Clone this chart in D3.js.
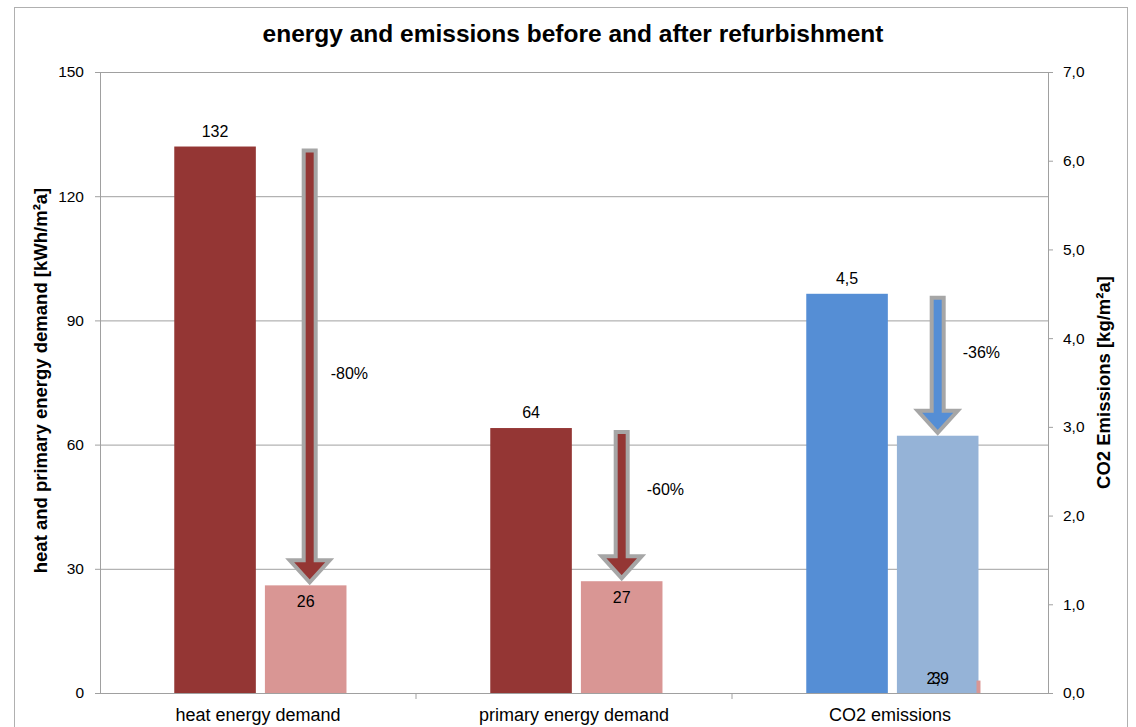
<!DOCTYPE html>
<html>
<head>
<meta charset="utf-8">
<script src="https://cdn.jsdelivr.net/npm/d3@7"></script>
<style>
  body { margin: 0; background: #fff; }
  svg { display: block; font-family: "Liberation Sans", Arial, sans-serif; }
</style>
</head>
<body>
<svg id="chart" width="1136" height="727"></svg>
<script>
const categories = ["heat energy demand", "primary energy demand", "CO2 emissions"];
const energyBefore = [132, 64, null];
const energyAfter = [26, 27, 3];
const co2Before = [null, null, 4.5];
const co2After = [null, null, 2.9];
const reductions = ["-80%", "-60%", "-36%"];
const leftTicks = [0, 30, 60, 90, 120, 150];
const rightTicks = [0, 1, 2, 3, 4, 5, 6, 7];

const width = 1136;
const height = 727;
const margin = { top: 72, right: 88, bottom: 34, left: 100 };
const plotW = width - margin.left - margin.right;   // 948
const plotH = height - margin.top - margin.bottom;  // 621

const colors = {
  energyBefore: "#943634",
  energyAfter: "#d99694",
  co2Before: "#558ed5",
  co2After: "#95b3d7",
  arrow: "#a6a6a6",
  grid: "#a0a0a0"
};

const svg = d3.select("#chart");

// outer chart border
svg.append("rect")
  .attr("x", 14.5).attr("y", 7.5)
  .attr("width", 1113).attr("height", 730)
  .attr("fill", "none").attr("stroke", "#b0b0b0");

svg.append("text")
  .attr("x", 573).attr("y", 42)
  .attr("text-anchor", "middle")
  .attr("font-size", 24.5).attr("font-weight", "bold")
  .text("energy and emissions before and after refurbishment");

const g = svg.append("g").attr("transform", `translate(${margin.left},${margin.top})`);

const x0 = d3.scaleBand().domain(categories).range([0, plotW]);
const bw = x0.bandwidth();
const x1 = d3.scaleBand().domain(["before", "after"])
  .range([bw * 0.235, bw * 0.78]).paddingInner(0.1);

const yLeft = d3.scaleLinear().domain([0, 150]).range([plotH, 0]);
const yRight = d3.scaleLinear().domain([0, 7]).range([plotH, 0]);

// gridlines
g.append("g")
  .call(d3.axisLeft(yLeft).tickValues(leftTicks).tickSize(-plotW).tickFormat(""))
  .call(a => a.select(".domain").remove())
  .call(a => a.selectAll("line").attr("stroke", colors.grid));

// left axis
g.append("g")
  .call(d3.axisLeft(yLeft).tickValues(leftTicks).tickSize(5).tickPadding(11))
  .call(a => a.select(".domain").attr("stroke", colors.grid))
  .call(a => a.selectAll("line").attr("stroke", colors.grid))
  .call(a => a.selectAll("text").attr("font-size", 15.5).attr("fill", "#000")
    .attr("font-family", "Liberation Sans, Arial, sans-serif"));

// right axis
g.append("g")
  .attr("transform", `translate(${plotW},0)`)
  .call(d3.axisRight(yRight).tickValues(rightTicks).tickSize(5).tickPadding(10)
    .tickFormat(d => d3.format(".1f")(d).replace(".", ",")))
  .call(a => a.select(".domain").attr("stroke", colors.grid))
  .call(a => a.selectAll("line").attr("stroke", colors.grid))
  .call(a => a.selectAll("text").attr("font-size", 15.5).attr("fill", "#000")
    .attr("font-family", "Liberation Sans, Arial, sans-serif"));

// bottom axis
g.append("g")
  .attr("transform", `translate(0,${plotH})`)
  .call(d3.axisBottom(x0).tickSize(0).tickPadding(15))
  .call(a => a.select(".domain").attr("stroke", colors.grid))
  .call(a => a.selectAll("text").attr("font-size", 18).attr("fill", "#000")
    .attr("font-family", "Liberation Sans, Arial, sans-serif"));

// category separator ticks
g.append("g").selectAll("line")
  .data(categories.slice(1))
  .join("line")
  .attr("x1", d => x0(d)).attr("x2", d => x0(d))
  .attr("y1", plotH).attr("y2", plotH + 6)
  .attr("stroke", colors.grid);

// axis titles
svg.append("text")
  .attr("transform", `translate(47,${margin.top + plotH / 2 - 2}) rotate(-90)`)
  .attr("text-anchor", "middle")
  .attr("font-size", 18.5).attr("font-weight", "bold")
  .text("heat and primary energy demand [kWh/m²a]");

svg.append("text")
  .attr("transform", `translate(1110,${margin.top + plotH / 2}) rotate(-90)`)
  .attr("text-anchor", "middle")
  .attr("font-size", 18.5).attr("font-weight", "bold")
  .text("CO2 Emissions [kg/m²a]");

// build bar records
const bars = [];
categories.forEach((c, i) => {
  if (energyBefore[i] != null) bars.push({ c, slot: "before", v: energyBefore[i], y: yLeft, fill: colors.energyBefore, label: String(energyBefore[i]), pos: "above" });
  if (co2Before[i] != null) bars.push({ c, slot: "before", v: co2Before[i], y: yRight, fill: colors.co2Before, label: String(co2Before[i]).replace(".", ","), pos: "above" });
  if (co2After[i] != null) bars.push({ c, slot: "after", v: co2After[i], y: yRight, fill: colors.co2After, label: String(co2After[i]).replace(".", ","), pos: "base" });
  if (energyAfter[i] != null) {
    const sliver = co2After[i] != null;
    bars.push({ c, slot: sliver ? "sliver" : "after", v: energyAfter[i], y: yLeft, fill: colors.energyAfter, label: String(energyAfter[i]), pos: sliver ? "base" : "inside" });
  }
});

const barX = d => d.slot === "sliver" ? x0(d.c) + x1("after") + x1.bandwidth() - 2 : x0(d.c) + x1(d.slot);
const barW = d => d.slot === "sliver" ? 4 : x1.bandwidth();

g.append("g").selectAll("rect")
  .data(bars)
  .join("rect")
  .attr("x", barX)
  .attr("y", d => d.y(d.v))
  .attr("width", barW)
  .attr("height", d => plotH - d.y(d.v))
  .attr("fill", d => d.fill);

// data labels
g.append("g").selectAll("text")
  .data(bars)
  .join("text")
  .attr("x", d => d.slot === "sliver" ? x0(d.c) + x1("after") + x1.bandwidth() / 2 - 1.5 : barX(d) + barW(d) / 2)
  .attr("y", d => d.pos === "above" ? d.y(d.v) - 10 : d.pos === "inside" ? d.y(d.v) + 22 : plotH - 9)
  .attr("text-anchor", "middle")
  .attr("font-size", 16)
  .text(d => d.label);

// reduction arrows
const arrows = categories.map((c, i) => {
  const useCo2 = co2Before[i] != null;
  const scale = useCo2 ? yRight : yLeft;
  const from = useCo2 ? co2Before[i] : energyBefore[i];
  const to = useCo2 ? co2After[i] : energyAfter[i];
  return { c, top: scale(from) + 4, tip: scale(to) - 3, label: reductions[i], fill: useCo2 ? colors.co2Before : colors.energyBefore };
});

const arrowPath = d => {
  const cx = x0(d.c) + x1("after") + x1.bandwidth() / 2 + (d.c === categories[0] ? 4 : 0);
  const sw = 6, hw = 20, hl = 22;
  const p = d3.path();
  p.moveTo(cx - sw, d.top);
  p.lineTo(cx + sw, d.top);
  p.lineTo(cx + sw, d.tip - hl);
  p.lineTo(cx + hw, d.tip - hl);
  p.lineTo(cx, d.tip);
  p.lineTo(cx - hw, d.tip - hl);
  p.lineTo(cx - sw, d.tip - hl);
  p.closePath();
  return p.toString();
};

g.append("g").selectAll("path")
  .data(arrows)
  .join("path")
  .attr("d", arrowPath)
  .attr("fill", d => d.fill)
  .attr("stroke", colors.arrow)
  .attr("stroke-width", 4)
  .attr("stroke-linejoin", "miter");

g.append("g").selectAll("text")
  .data(arrows)
  .join("text")
  .attr("x", d => x0(d.c) + x1("after") + x1.bandwidth() / 2 + 25)
  .attr("y", (d, i) => (d.top + d.tip) / 2 + [13, -10, -7][i])
  .attr("font-size", 16)
  .text(d => d.label);
</script>
</body>
</html>
